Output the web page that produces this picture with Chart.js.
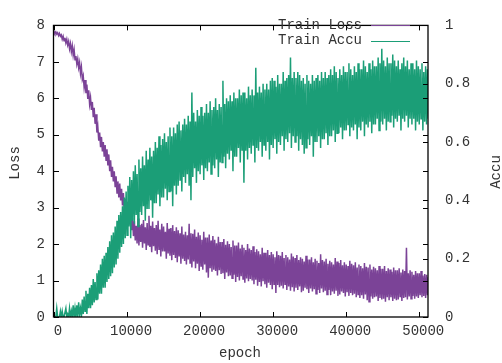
<!DOCTYPE html>
<html><head><meta charset="utf-8">
<script src="https://cdn.jsdelivr.net/npm/chart.js@4"></script>
<style>html,body{margin:0;padding:0;background:#fff}#wrap{width:502px;height:363px}</style>
</head><body><div id="wrap"><canvas id="c" width="502" height="363"></canvas></div>
<script>
// sampling interval of the training log (epochs between samples)
const EPOCH_STEP = 125;
const X_MAX = 51200;

// Train Loss, one value every 125 epochs from 0 (8 per 1000 epochs)
const lossValues = [
  7.84, 7.78, 7.82, 7.76, 7.80, 7.72, 7.78, 7.70,
  7.74, 7.62, 7.70, 7.58, 7.66, 7.52, 7.62, 7.46,
  7.56, 7.36, 7.50, 7.28, 7.44, 7.18, 7.34, 7.06,
  7.16, 6.94, 7.08, 6.84, 6.98, 6.68, 6.86, 6.52,
  6.62, 6.30, 6.50, 6.14, 6.38, 5.98, 6.22, 5.84,
  6.02, 5.68, 5.90, 5.48, 5.74, 5.30, 5.56, 5.06,
  5.22, 4.84, 5.06, 4.66, 4.94, 4.54, 4.80, 4.40,
  4.72, 4.30, 4.60, 4.16, 4.46, 4.00, 4.30, 3.84,
  4.12, 3.72, 4.00, 3.56, 3.86, 3.40, 3.72, 3.28,
  3.66, 3.20, 3.52, 3.06, 3.40, 2.90, 3.24, 2.76,
  3.16, 2.70, 3.02, 2.54, 2.86, 2.38, 2.72, 2.22,
  2.64, 2.10, 2.50, 2.02, 2.70, 1.96, 2.52, 2.06,
  2.56, 1.90, 2.66, 2.02, 2.46, 1.84, 2.58, 1.98,
  2.78, 1.92, 2.50, 1.78, 2.62, 1.94, 2.44, 1.82,
  2.52, 1.72, 2.64, 1.86, 2.40, 1.66, 2.56, 1.80,
  2.48, 1.80, 2.34, 1.60, 2.58, 1.74, 2.42, 1.68,
  2.44, 1.56, 2.52, 1.70, 2.36, 1.62, 2.46, 1.50,
  2.38, 1.66, 2.30, 1.46, 2.48, 1.60, 2.26, 1.54,
  2.34, 1.44, 2.24, 1.58, 2.56, 1.48, 2.30, 1.36,
  2.28, 1.52, 2.40, 1.34, 2.20, 1.46, 2.32, 1.26,
  2.24, 1.40, 2.12, 1.30, 2.34, 1.44, 2.18, 1.22,
  2.18, 1.08, 2.26, 1.34, 2.10, 1.24, 2.22, 1.30,
  2.12, 1.26, 2.02, 1.14, 2.20, 1.28, 2.06, 1.18,
  2.06, 1.20, 2.14, 1.04, 1.98, 1.22, 2.08, 1.12,
  2.00, 1.14, 1.92, 1.06, 2.10, 1.16, 1.96, 0.96,
  1.96, 1.10, 2.04, 1.00, 1.88, 1.12, 1.98, 1.04,
  1.90, 0.94, 1.84, 1.06, 2.00, 0.98, 1.88, 1.04,
  1.84, 1.00, 1.94, 0.90, 1.78, 1.02, 1.86, 0.86,
  1.80, 0.96, 1.72, 0.84, 1.90, 0.98, 1.76, 0.90,
  1.76, 0.80, 1.84, 0.94, 1.70, 0.88, 1.78, 0.76,
  1.72, 0.90, 1.64, 0.66, 1.80, 0.88, 1.70, 0.82,
  1.68, 0.86, 1.78, 0.78, 1.62, 0.90, 1.70, 0.74,
  1.64, 0.84, 1.58, 0.72, 1.74, 0.82, 1.66, 0.70,
  1.62, 0.80, 1.70, 0.74, 1.56, 0.84, 1.64, 0.68,
  1.60, 0.72, 1.52, 0.80, 1.68, 0.76, 1.58, 0.66,
  1.58, 0.78, 1.64, 0.70, 1.50, 0.76, 1.60, 0.64,
  1.54, 0.74, 1.48, 0.66, 1.72, 0.78, 1.56, 0.68,
  1.52, 0.72, 1.60, 0.62, 1.46, 0.74, 1.54, 0.60,
  1.50, 0.70, 1.44, 0.64, 1.62, 0.72, 1.52, 0.58,
  1.48, 0.62, 1.56, 0.70, 1.42, 0.66, 1.50, 0.56,
  1.44, 0.68, 1.40, 0.58, 1.54, 0.66, 1.46, 0.60,
  1.42, 0.64, 1.50, 0.54, 1.36, 0.62, 1.44, 0.52,
  1.40, 0.60, 1.34, 0.50, 1.48, 0.62, 1.38, 0.46,
  1.36, 0.42, 1.44, 0.56, 1.30, 0.50, 1.38, 0.54,
  1.34, 0.56, 1.28, 0.44, 1.40, 0.52, 1.32, 0.48,
  1.32, 0.50, 1.40, 0.42, 1.26, 0.54, 1.34, 0.46,
  1.30, 0.54, 1.24, 0.44, 1.36, 0.50, 1.28, 0.46,
  1.28, 0.48, 1.34, 0.56, 1.22, 0.44, 1.30, 0.52,
  1.26, 0.54, 1.90, 0.48, 1.20, 0.56, 1.28, 0.50,
  1.24, 0.58, 1.16, 0.50, 1.26, 0.56, 1.20, 0.52,
  1.20, 0.60, 1.26, 0.54, 1.14, 0.58, 1.18, 0.52,
  1.16, 0.60, 1.10
];

// Train Accu, one value every 125 epochs from 0 (8 per 1000 epochs)
const accuValues = [
  0, 0, 0, 0.03, 0, 0, 0, 0.02,
  0, 0.02, 0, 0, 0, 0.03, 0, 0.01,
  0, 0.03, 0, 0.02, 0, 0.04, 0, 0.03,
  0, 0.04, 0, 0.05, 0.01, 0.03, 0, 0.06,
  0.01, 0.07, 0.02, 0.09, 0.01, 0.08, 0.03, 0.10,
  0.03, 0.11, 0.04, 0.13, 0.05, 0.12, 0.06, 0.15,
  0.06, 0.16, 0.08, 0.18, 0.08, 0.20, 0.10, 0.21,
  0.10, 0.22, 0.12, 0.24, 0.13, 0.26, 0.14, 0.28,
  0.15, 0.29, 0.17, 0.31, 0.18, 0.33, 0.20, 0.35,
  0.22, 0.36, 0.24, 0.38, 0.25, 0.41, 0.27, 0.43,
  0.28, 0.45, 0.31, 0.48, 0.27, 0.47, 0.33, 0.50,
  0.32, 0.52, 0.35, 0.49, 0.31, 0.54, 0.36, 0.51,
  0.35, 0.55, 0.38, 0.52, 0.33, 0.57, 0.37, 0.54,
  0.37, 0.58, 0.40, 0.55, 0.34, 0.57, 0.39, 0.60,
  0.39, 0.58, 0.42, 0.62, 0.38, 0.59, 0.41, 0.61,
  0.41, 0.63, 0.44, 0.60, 0.40, 0.62, 0.43, 0.65,
  0.43, 0.62, 0.38, 0.65, 0.45, 0.63, 0.42, 0.66,
  0.45, 0.67, 0.47, 0.64, 0.43, 0.66, 0.48, 0.68,
  0.46, 0.66, 0.49, 0.69, 0.45, 0.67, 0.40, 0.77,
  0.48, 0.70, 0.51, 0.67, 0.46, 0.71, 0.50, 0.69,
  0.49, 0.72, 0.52, 0.69, 0.47, 0.70, 0.51, 0.73,
  0.50, 0.70, 0.53, 0.74, 0.49, 0.71, 0.52, 0.72,
  0.51, 0.75, 0.54, 0.71, 0.48, 0.73, 0.53, 0.72,
  0.53, 0.81, 0.55, 0.73, 0.51, 0.75, 0.56, 0.74,
  0.54, 0.76, 0.57, 0.74, 0.50, 0.77, 0.55, 0.75,
  0.55, 0.75, 0.58, 0.78, 0.53, 0.76, 0.57, 0.77,
  0.46, 0.77, 0.57, 0.75, 0.54, 0.79, 0.58, 0.76,
  0.56, 0.78, 0.59, 0.76, 0.53, 0.855, 0.58, 0.77,
  0.57, 0.79, 0.60, 0.77, 0.55, 0.80, 0.59, 0.78,
  0.57, 0.80, 0.60, 0.78, 0.54, 0.81, 0.59, 0.82,
  0.58, 0.81, 0.61, 0.79, 0.56, 0.83, 0.60, 0.80,
  0.59, 0.80, 0.62, 0.84, 0.57, 0.81, 0.61, 0.82,
  0.60, 0.83, 0.63, 0.89, 0.58, 0.82, 0.62, 0.84,
  0.60, 0.82, 0.62, 0.84, 0.57, 0.83, 0.61, 0.81,
  0.59, 0.82, 0.56, 0.80, 0.58, 0.83, 0.61, 0.81,
  0.59, 0.80, 0.62, 0.83, 0.55, 0.81, 0.60, 0.82,
  0.60, 0.83, 0.62, 0.81, 0.58, 0.84, 0.61, 0.82,
  0.61, 0.84, 0.63, 0.82, 0.59, 0.83, 0.62, 0.85,
  0.62, 0.83, 0.64, 0.86, 0.60, 0.84, 0.63, 0.82,
  0.63, 0.85, 0.65, 0.83, 0.61, 0.86, 0.64, 0.84,
  0.64, 0.84, 0.66, 0.87, 0.62, 0.85, 0.65, 0.83,
  0.64, 0.86, 0.66, 0.84, 0.61, 0.87, 0.65, 0.85,
  0.64, 0.85, 0.67, 0.88, 0.62, 0.86, 0.66, 0.84,
  0.65, 0.87, 0.67, 0.85, 0.63, 0.88, 0.66, 0.86,
  0.66, 0.86, 0.68, 0.89, 0.64, 0.87, 0.67, 0.92,
  0.66, 0.88, 0.68, 0.86, 0.64, 0.89, 0.67, 0.87,
  0.67, 0.87, 0.69, 0.90, 0.65, 0.88, 0.68, 0.86,
  0.67, 0.88, 0.69, 0.85, 0.64, 0.87, 0.68, 0.89,
  0.67, 0.86, 0.69, 0.88, 0.65, 0.85, 0.68, 0.87,
  0.66, 0.87, 0.68, 0.85, 0.64, 0.88, 0.67, 0.86,
  0.66, 0.85, 0.68, 0.87, 0.64, 0.84, 0.67, 0.86,
  0.66, 0.85, 0.68
];

const xTickValues = [0, 10000, 20000, 30000, 40000, 50000];
const lossTickValues = [0, 1, 2, 3, 4, 5, 6, 7, 8];
const accuTickValues = [0, 0.2, 0.4, 0.6, 0.8, 1];
const seriesNames = ['Train Loss', 'Train Accu'];
const axisTitles = { x: 'epoch', y: 'Loss', y2: 'Accu' };

const LOSS_COLOR = '#7b4397';
const ACCU_COLOR = '#1b9e77';
const TEXT_COLOR = '#333';
const FONT = '"Liberation Mono", "DejaVu Sans Mono", monospace';

const lossData = lossValues.map((v, i) => ({ x: i * EPOCH_STEP, y: v }));
const accuData = accuValues.map((v, i) => ({ x: i * EPOCH_STEP, y: v }));

const decor = {
  id: 'decor',
  afterDatasetsDraw(chart) {
    const { ctx, chartArea: a, scales } = chart;
    ctx.save();
    ctx.strokeStyle = '#000';
    ctx.lineWidth = 1;
    const L = 5;
    ctx.beginPath();
    scales.x.ticks.forEach(t => {
      const px = Math.round(scales.x.getPixelForValue(t.value)) + 0.5;
      ctx.moveTo(px, a.bottom); ctx.lineTo(px, a.bottom - L);
      ctx.moveTo(px, a.top); ctx.lineTo(px, a.top + L);
    });
    scales.y.ticks.forEach(t => {
      const py = Math.round(scales.y.getPixelForValue(t.value)) + 0.5;
      ctx.moveTo(a.left, py); ctx.lineTo(a.left + L, py);
      ctx.moveTo(a.right, py); ctx.lineTo(a.right - L, py);
    });
    scales.y2.ticks.forEach(t => {
      const py = Math.round(scales.y2.getPixelForValue(t.value)) + 0.5;
      ctx.moveTo(a.right, py); ctx.lineTo(a.right - L, py);
    });
    ctx.stroke();
    ctx.lineWidth = 1.3;
    ctx.strokeRect(a.left - 0.5, a.top, a.right - a.left + 0.5, a.bottom - a.top);

    // legend
    ctx.font = '14px ' + FONT;
    ctx.fillStyle = TEXT_COLOR;
    ctx.textAlign = 'right';
    ctx.textBaseline = 'middle';
    const rows = [[seriesNames[0], LOSS_COLOR, 25], [seriesNames[1], ACCU_COLOR, 40.5]];
    rows.forEach(([name, col, y]) => {
      ctx.fillText(name, 362, y);
      ctx.strokeStyle = col;
      ctx.lineWidth = 1;
      ctx.beginPath();
      ctx.moveTo(371, Math.round(y) + 0.5);
      ctx.lineTo(410, Math.round(y) + 0.5);
      ctx.stroke();
    });

    // axis titles
    ctx.textAlign = 'center';
    ctx.fillText(axisTitles.x, 240, 353);
    ctx.save();
    ctx.translate(15, 163);
    ctx.rotate(-Math.PI / 2);
    ctx.fillText(axisTitles.y, 0, 0);
    ctx.restore();
    ctx.save();
    ctx.translate(496, 172);
    ctx.rotate(-Math.PI / 2);
    ctx.fillText(axisTitles.y2, 0, 0);
    ctx.restore();
    ctx.restore();
  }
};

const tickFont = { family: FONT, size: 14 };

new Chart(document.getElementById('c'), {
  type: 'line',
  data: {
    datasets: [
      { label: seriesNames[0], data: lossData, yAxisID: 'y', borderColor: LOSS_COLOR,
        borderWidth: 1.5, pointRadius: 0, tension: 0, order: 1 },
      { label: seriesNames[1], data: accuData, yAxisID: 'y2', borderColor: ACCU_COLOR,
        borderWidth: 1.5, pointRadius: 0, tension: 0, order: 0 }
    ]
  },
  options: {
    responsive: false,
    animation: false,
    events: [],
    layout: { padding: { top: 14, left: 0, right: 0, bottom: 0 } },
    plugins: { legend: { display: false }, tooltip: { enabled: false } },
    scales: {
      x: {
        type: 'linear', min: 0, max: X_MAX, position: 'bottom',
        grid: { display: false, drawTicks: false }, border: { display: false },
        afterBuildTicks: s => { s.ticks = xTickValues.map(v => ({ value: v })); },
        afterFit: s => { s.height = 46; },
        ticks: { font: tickFont, color: TEXT_COLOR, padding: 6, labelOffset: 4, maxRotation: 0, callback: v => String(v) }
      },
      y: {
        type: 'linear', min: 0, max: 8, position: 'left',
        grid: { display: false, drawTicks: false }, border: { display: false },
        afterBuildTicks: s => { s.ticks = lossTickValues.map(v => ({ value: v })); },
        afterFit: s => { s.width = 54; },
        ticks: { font: tickFont, color: TEXT_COLOR, padding: 9, callback: v => String(v) }
      },
      y2: {
        type: 'linear', min: 0, max: 1, position: 'right',
        grid: { display: false, drawTicks: false }, border: { display: false },
        afterBuildTicks: s => { s.ticks = accuTickValues.map(v => ({ value: v })); },
        afterFit: s => { s.width = 74; },
        ticks: { font: tickFont, color: TEXT_COLOR, padding: 17, callback: v => String(+v.toFixed(1)) }
      }
    }
  },
  plugins: [decor]
});
</script>
</body></html>
